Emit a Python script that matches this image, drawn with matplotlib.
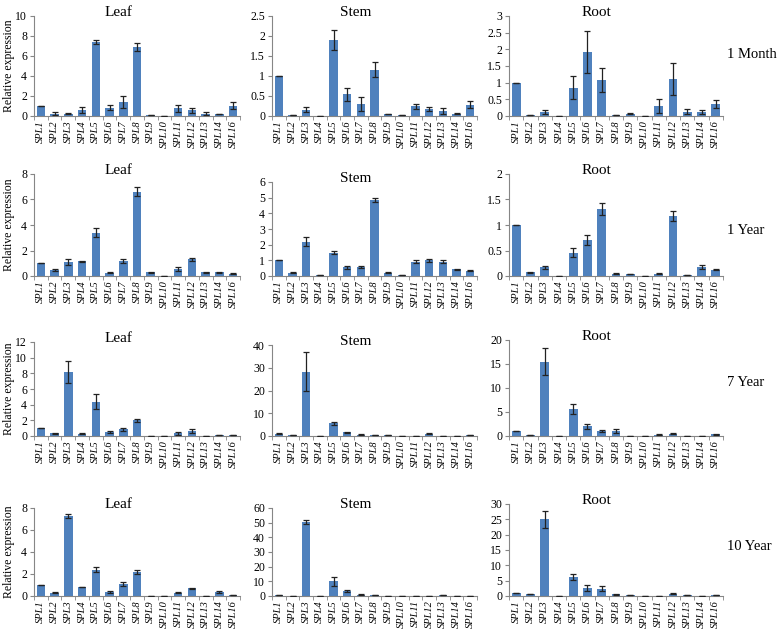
import matplotlib.pyplot as plt
import matplotlib
import numpy as np

matplotlib.rcParams['font.family'] = ['Liberation Serif', 'DejaVu Serif']

genes = ["SPL1", "SPL2", "SPL3", "SPL4", "SPL5", "SPL6", "SPL7", "SPL8",
         "SPL9", "SPL10", "SPL11", "SPL12", "SPL13", "SPL14", "SPL16"]
tissues = ["Leaf", "Stem", "Root"]
ages = ["1 Month", "1 Year", "7 Year", "10 Year"]

# 1 Month
leaf_1m = [1.0, 0.25, 0.25, 0.65, 7.4, 0.85, 1.4, 6.9, 0.08, 0.03, 0.8, 0.6, 0.25, 0.2, 1.05]
leaf_1m_err = [0, 0.15, 0.05, 0.3, 0.2, 0.25, 0.6, 0.4, 0.02, 0, 0.35, 0.25, 0.15, 0.03, 0.35]
stem_1m = [1.0, 0.03, 0.16, 0.0, 1.9, 0.54, 0.3, 1.16, 0.04, 0.02, 0.24, 0.17, 0.13, 0.06, 0.28]
stem_1m_err = [0, 0, 0.06, 0, 0.25, 0.17, 0.17, 0.19, 0, 0, 0.06, 0.05, 0.08, 0.02, 0.09]
root_1m = [1.0, 0.02, 0.12, 0.0, 0.85, 1.92, 1.08, 0.02, 0.07, 0.0, 0.3, 1.1, 0.13, 0.12, 0.36]
root_1m_err = [0, 0, 0.07, 0, 0.35, 0.62, 0.36, 0, 0.02, 0, 0.21, 0.48, 0.08, 0.07, 0.12]

# 1 Year
leaf_1y = [1.0, 0.5, 1.1, 1.15, 3.4, 0.25, 1.2, 6.6, 0.3, 0.03, 0.55, 1.3, 0.28, 0.28, 0.17]
leaf_1y_err = [0, 0.07, 0.2, 0.03, 0.35, 0.03, 0.15, 0.35, 0.05, 0, 0.15, 0.1, 0.02, 0.05, 0.03]
stem_1y = [1.0, 0.22, 2.2, 0.05, 1.48, 0.55, 0.57, 4.85, 0.22, 0.04, 0.92, 1.0, 0.92, 0.42, 0.33]
stem_1y_err = [0, 0.03, 0.28, 0, 0.1, 0.08, 0.08, 0.12, 0.03, 0, 0.12, 0.1, 0.08, 0.03, 0.04]
root_1y = [1.0, 0.07, 0.17, 0.005, 0.46, 0.7, 1.31, 0.04, 0.03, 0.005, 0.04, 1.18, 0.01, 0.17, 0.12]
root_1y_err = [0, 0.01, 0.03, 0, 0.08, 0.1, 0.12, 0.01, 0, 0, 0.01, 0.1, 0, 0.04, 0.01]

# 7 Year
leaf_7y = [1.0, 0.35, 8.2, 0.3, 4.4, 0.5, 0.85, 2.0, 0.05, 0.0, 0.35, 0.6, 0.04, 0.08, 0.12]
leaf_7y_err = [0, 0.05, 1.4, 0.05, 0.9, 0.15, 0.2, 0.15, 0, 0, 0.2, 0.25, 0, 0, 0.02]
stem_7y = [1.0, 0.5, 28.3, 0.0, 5.5, 1.6, 0.6, 0.4, 0.3, 0.0, 0.1, 0.9, 0.1, 0.2, 0.3]
stem_7y_err = [0.2, 0.1, 8.5, 0, 0.5, 0.3, 0.1, 0.1, 0, 0, 0, 0.2, 0, 0, 0]
root_7y = [1.0, 0.2, 15.5, 0.02, 5.6, 2.0, 1.0, 1.1, 0.1, 0.0, 0.3, 0.5, 0.03, 0.05, 0.4]
root_7y_err = [0, 0, 2.8, 0, 1.0, 0.5, 0.2, 0.4, 0, 0, 0.1, 0.1, 0, 0, 0.1]

# 10 Year
leaf_10y = [1.0, 0.3, 7.3, 0.82, 2.4, 0.33, 1.1, 2.2, 0.04, 0.03, 0.28, 0.72, 0.04, 0.35, 0.06]
leaf_10y_err = [0, 0.05, 0.2, 0.03, 0.2, 0.1, 0.15, 0.2, 0, 0, 0.05, 0.05, 0, 0.08, 0]
stem_10y = [0.8, 0.05, 50.5, 0.05, 10.0, 3.3, 0.9, 0.4, 0.1, 0.0, 0.0, 0.3, 0.4, 0.05, 0.1]
stem_10y_err = [0, 0, 1.5, 0, 3.0, 0.6, 0.2, 0, 0, 0, 0, 0, 0, 0, 0]
root_10y = [1.0, 0.5, 25.0, 0.0, 6.2, 2.7, 2.4, 0.5, 0.2, 0.0, 0.1, 0.7, 0.2, 0.1, 0.3]
root_10y_err = [0, 0, 2.8, 0, 1.0, 1.0, 0.9, 0.1, 0, 0, 0, 0.2, 0, 0, 0]

panels = [
    [(leaf_1m, leaf_1m_err), (stem_1m, stem_1m_err), (root_1m, root_1m_err)],
    [(leaf_1y, leaf_1y_err), (stem_1y, stem_1y_err), (root_1y, root_1y_err)],
    [(leaf_7y, leaf_7y_err), (stem_7y, stem_7y_err), (root_7y, root_7y_err)],
    [(leaf_10y, leaf_10y_err), (stem_10y, stem_10y_err), (root_10y, root_10y_err)],
]

# axis ranges (max, step) per panel
yscale = [
    [(10, 2), (2.5, 0.5), (3, 0.5)],
    [(8, 2), (6, 1), (2, 0.5)],
    [(12, 2), (40, 10), (20, 5)],
    [(8, 2), (60, 10), (30, 5)],
]

W, H = 778, 631
# pixel boxes: x-left, x-right for columns; y-top per panel, y-bottom per row
col_x = [(34, 240), (272, 477), (509, 723)]
row_top = [[16, 16, 16], [174, 182, 174], [342, 345, 340], [508, 508, 504]]
row_bot = [116, 276, 436, 596]
age_y = [55, 231, 382, 546]

fig = plt.figure(figsize=(W / 100, H / 100), dpi=100)
bar_color = '#4F81BD'
axis_color = '#868686'
x = np.arange(len(genes))

for r in range(4):
    for c in range(3):
        x0, x1 = col_x[c]
        yt, yb = row_top[r][c], row_bot[r]
        ax = fig.add_axes([x0 / W, 1 - yb / H, (x1 - x0) / W, (yb - yt) / H])
        vals, errs = panels[r][c]
        ax.bar(x, vals, width=0.62, color=bar_color, zorder=2)
        ax.errorbar(x, vals, yerr=errs, fmt='none', ecolor='#222222',
                    elinewidth=0.9, capsize=2.2, capthick=0.9, zorder=3)
        ymax, step = yscale[r][c]
        ax.set_ylim(0, ymax)
        ax.set_xlim(-0.5, len(genes) - 0.5)
        ticks = np.arange(0, ymax + step / 2, step)
        ax.set_yticks(ticks)
        ax.set_yticklabels(['{:g}'.format(t) for t in ticks], fontsize=8.5)
        ax.set_xticks(x)
        ax.set_xticklabels(genes, rotation=90, fontsize=7.5, style='italic')
        ax.set_xticks(np.arange(-0.5, len(genes), 1), minor=True)
        ax.tick_params(axis='x', which='major', length=0, pad=3)
        ax.tick_params(axis='x', which='minor', length=3, color=axis_color, direction='out')
        ax.tick_params(axis='y', length=3, color=axis_color, pad=2)
        for s in ['top', 'right']:
            ax.spines[s].set_visible(False)
        for s in ['left', 'bottom']:
            ax.spines[s].set_color(axis_color)
            ax.spines[s].set_linewidth(0.8)
        ax.annotate(tissues[c], xy=(0.41, 1.0), xycoords='axes fraction',
                    xytext=(0, 0), textcoords='offset points',
                    ha='center', va='baseline', fontsize=11)
        if c == 0:
            ax.set_ylabel('Relative expression', fontsize=8.5)
            ax.yaxis.set_label_coords(-(x0 - 15) / (x1 - x0), 0.5)
    fig.text(727 / W, 1 - age_y[r] / H, ages[r], ha='left', va='center', fontsize=10.5)

fig.savefig('out.png', dpi=100)
